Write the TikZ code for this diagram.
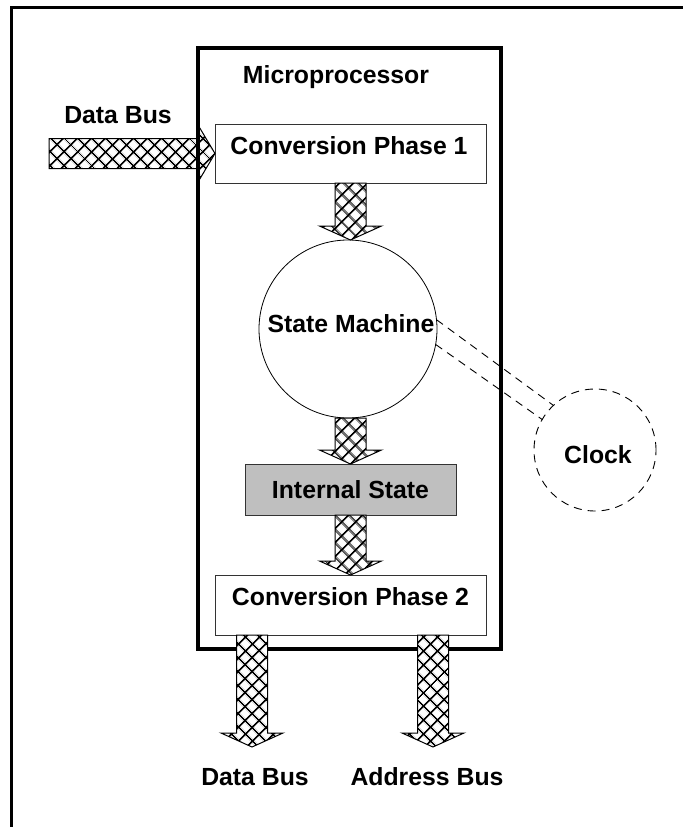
\documentclass[tikz,border=0pt]{standalone}
\usepackage{fontspec}
\setmainfont{Liberation Sans}
\usetikzlibrary{patterns.meta,calc}

\tikzset{
  every node/.style={font=\bfseries\fontsize{24.8}{29}\selectfont, outer sep=0pt},
  box/.style={draw=black!80, line width=1pt, fill=white, inner sep=0pt},
  bus/.style={draw=black, line width=1pt, preaction={fill=white},
    pattern={Hatch[angle=45,distance=10.5pt,line width=1.8pt]}},
  clk/.style={dash pattern=on 8pt off 6pt, line width=0.9pt},
}

% hatched bus arrow pointing down: shaft starts at the height of #1, tip at #2
\newcommand{\busdown}[2]{%
  \path[bus] let \p1=(#1), \p2=(#2) in
    (\x2-15.5pt,\y1) -- (\x2+15.5pt,\y1) -- (\x2+15.5pt,\y2+14pt) --
    (\x2+31pt,\y2+14pt) -- (\x2,\y2) -- (\x2-31pt,\y2+14pt) --
    (\x2-15.5pt,\y2+14pt) -- cycle;}
% hatched bus arrow pointing right: shaft starts at #1, tip at #2
\newcommand{\busright}[2]{%
  \path[bus] let \p1=(#1), \p2=(#2) in
    (\x1,\y2+15pt) -- (\x2-17pt,\y2+15pt) -- (\x2-17pt,\y2+28.5pt) --
    (\x2,\y2) -- (\x2-17pt,\y2-28.5pt) -- (\x2-17pt,\y2-15pt) --
    (\x1,\y2-15pt) -- cycle;}

\begin{document}
\begin{tikzpicture}[x=1pt, y=-1pt]
\useasboundingbox (0,0) rectangle (683,827);

% page frame
\draw[line width=3pt] (11.5,827) -- (11.5,7.5) -- (683,7.5);

% first conversion stage and the incoming data bus
\node[box, minimum width=271pt, minimum height=59pt] (p1) at (350.5,153.5) {};
\node (p1lbl) at (349,146) {Conversion Phase 1};
\coordinate (dbin) at (49,153.5);
\busright{dbin}{p1.west}
\node (dbinlbl) at (118,115) {Data Bus};

% microprocessor outline
\node[draw, line width=4pt, minimum width=303pt, minimum height=601pt, inner sep=0pt]
  (mp) at (349.5,348.5) {};
\node (mplbl) at (336,77) {Microprocessor};

% state machine
\node[draw, circle, line width=0.8pt, minimum size=178pt, inner sep=0pt] (sm) at (348,329) {};
\node (smlbl) at (351,324) {State Machine};

% internal state register
\node[box, fill=black!25, minimum width=211pt, minimum height=51pt] (ist) at (350.5,489.5) {Internal State};

% second conversion stage
\node[box, minimum width=271pt, minimum height=60pt] (p2) at (350.5,605) {};
\node (p2lbl) at (350.5,597) {Conversion Phase 2};

% clock
\node[draw, circle, clk, minimum size=122pt, inner sep=0pt] (clk) at (595,450) {};
\node (clklbl) at (598,455) {Clock};
\draw[clk] (sm.6.5) -- (clk.133);
\draw[clk] (sm.-10) -- (clk.150);

% internal buses
\busdown{p1.south}{p1.south |- sm.north}
\busdown{sm.south -| ist.north}{ist.north}
\busdown{ist.south}{p2.north}

% outgoing buses
\coordinate (dbtip) at (252,747);
\coordinate (abtip) at (433,747);
\busdown{p2.south -| dbtip}{dbtip}
\busdown{p2.south -| abtip}{abtip}
\node (dboutlbl) at (255,777) {Data Bus};
\node (ablbl) at (427,777) {Address Bus};
\end{tikzpicture}
\end{document}
